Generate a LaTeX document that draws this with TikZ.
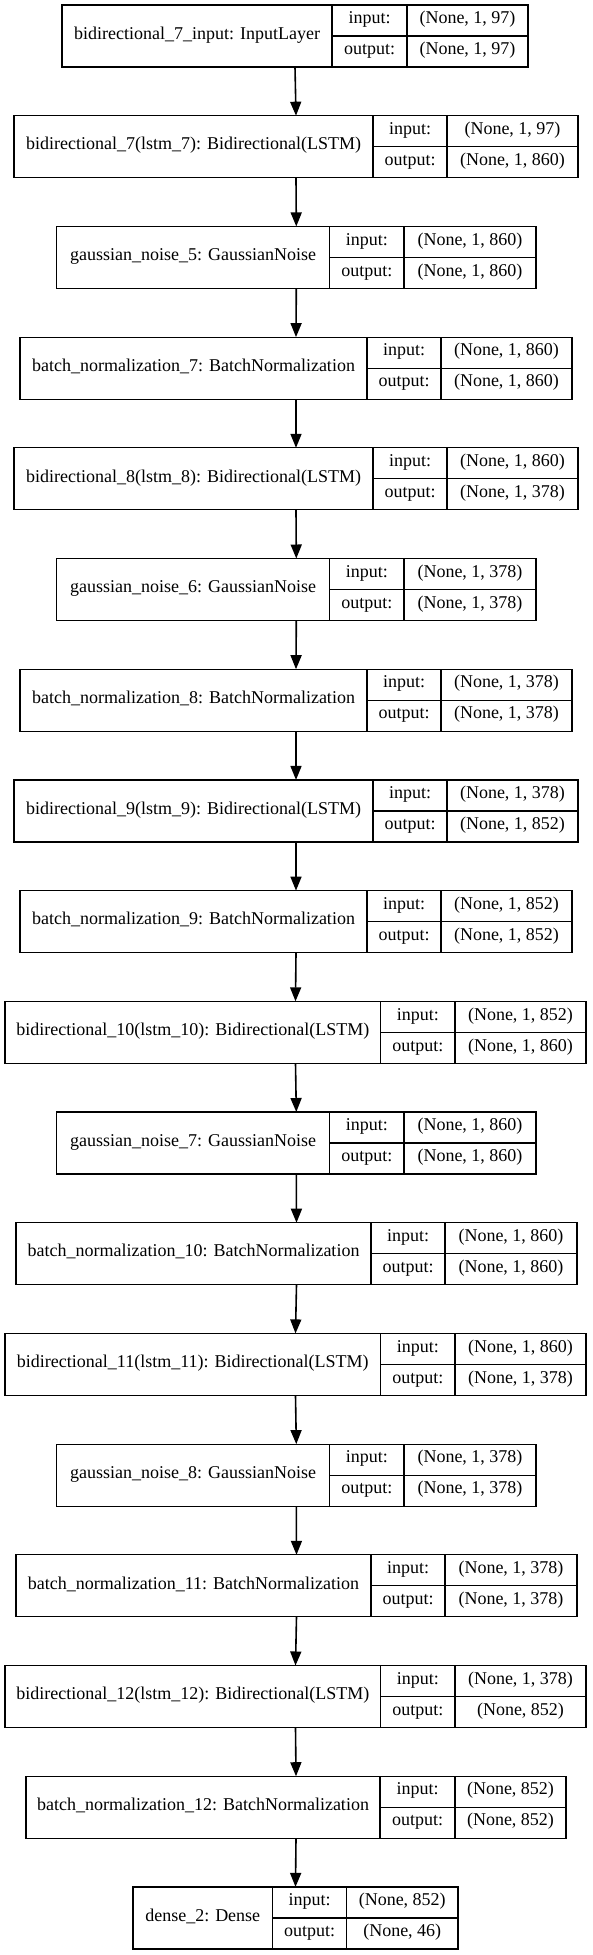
\documentclass[tikz,border=0pt]{standalone}
\usepackage{fontspec}
\setmainfont{Liberation Serif}
\usetikzlibrary{arrows.meta}
\tikzset{
  layerbox/.style={draw=black, line width=1.2pt, inner sep=0pt, outer sep=0pt, rectangle},
  cellline/.style={draw=black, line width=1.2pt},
  celltext/.style={inner sep=0pt, font=\fontsize{18}{20}\selectfont, text height=11.5pt, text depth=5pt},
  flow/.style={draw=black, line width=1.6pt, -{Triangle[length=14pt,width=11pt]}},
}
\newcommand\mklayer[8]{%
  \pgfmathsetmacro\ltop{5+110.7*#1}%
  \pgfmathsetmacro\lbot{\ltop+62}%
  \pgfmathsetmacro\lmid{\ltop+31}%
  \node[layerbox, minimum width={(#5-#2)*1pt}, minimum height=62pt] (B#1) at ({(#2+#5)/2},\lmid) {};
  \draw[cellline] (#3,\ltop) -- (#3,\lbot) (#4,\ltop) -- (#4,\lbot) (#3,\lmid) -- (#5,\lmid);
  \node[celltext] (L#1) at ({(#2+#3)/2},\lmid) {#6};
  \node[celltext] (I#1) at ({(#3+#4)/2},{\ltop+15.5}) {input:};
  \node[celltext] (O#1) at ({(#3+#4)/2},{\ltop+46.5}) {output:};
  \node[celltext] (SI#1) at ({(#4+#5)/2},{\ltop+15.5}) {#7};
  \node[celltext] (SO#1) at ({(#4+#5)/2},{\ltop+46.5}) {#8};
}
\begin{document}
\begin{tikzpicture}[x=1pt,y=-1pt]
\useasboundingbox (0,0) rectangle (592,1955);
\mklayer{0}{62}{332}{407}{528}{bidirectional\_7\_input: InputLayer}{(None, 1, 97)}{(None, 1, 97)}
\mklayer{1}{14}{373}{447}{578}{bidirectional\_7(lstm\_7): Bidirectional(LSTM)}{(None, 1, 97)}{(None, 1, 860)}
\mklayer{2}{56.6}{329.6}{404}{536}{gaussian\_noise\_5: GaussianNoise}{(None, 1, 860)}{(None, 1, 860)}
\mklayer{3}{20}{367}{441}{572}{batch\_normalization\_7: BatchNormalization}{(None, 1, 860)}{(None, 1, 860)}
\mklayer{4}{14}{373}{447}{578}{bidirectional\_8(lstm\_8): Bidirectional(LSTM)}{(None, 1, 860)}{(None, 1, 378)}
\mklayer{5}{56.6}{329.6}{404}{536}{gaussian\_noise\_6: GaussianNoise}{(None, 1, 378)}{(None, 1, 378)}
\mklayer{6}{20}{367}{441}{572}{batch\_normalization\_8: BatchNormalization}{(None, 1, 378)}{(None, 1, 378)}
\mklayer{7}{14}{373}{447}{578}{bidirectional\_9(lstm\_9): Bidirectional(LSTM)}{(None, 1, 378)}{(None, 1, 852)}
\mklayer{8}{20}{367}{441}{572}{batch\_normalization\_9: BatchNormalization}{(None, 1, 852)}{(None, 1, 852)}
\mklayer{9}{5}{380.5}{455}{586}{bidirectional\_10(lstm\_10): Bidirectional(LSTM)}{(None, 1, 852)}{(None, 1, 860)}
\mklayer{10}{56.6}{329.6}{404}{536}{gaussian\_noise\_7: GaussianNoise}{(None, 1, 860)}{(None, 1, 860)}
\mklayer{11}{16}{371}{445}{577}{batch\_normalization\_10: BatchNormalization}{(None, 1, 860)}{(None, 1, 860)}
\mklayer{12}{5}{380.5}{455}{586}{bidirectional\_11(lstm\_11): Bidirectional(LSTM)}{(None, 1, 860)}{(None, 1, 378)}
\mklayer{13}{56.6}{329.6}{404}{536}{gaussian\_noise\_8: GaussianNoise}{(None, 1, 378)}{(None, 1, 378)}
\mklayer{14}{16}{371}{445}{577}{batch\_normalization\_11: BatchNormalization}{(None, 1, 378)}{(None, 1, 378)}
\mklayer{15}{5}{380.5}{455}{586}{bidirectional\_12(lstm\_12): Bidirectional(LSTM)}{(None, 1, 378)}{(None, 852)}
\mklayer{16}{26}{380}{455}{566}{batch\_normalization\_12: BatchNormalization}{(None, 852)}{(None, 852)}
\mklayer{17}{133}{272.5}{346.5}{458}{dense\_2: Dense}{(None, 852)}{(None, 46)}
\foreach \i [evaluate=\i as \j using int(\i+1)] in {0,...,16}
  \draw[flow] (B\i.south) -- (B\j.north);
\end{tikzpicture}
\end{document}
